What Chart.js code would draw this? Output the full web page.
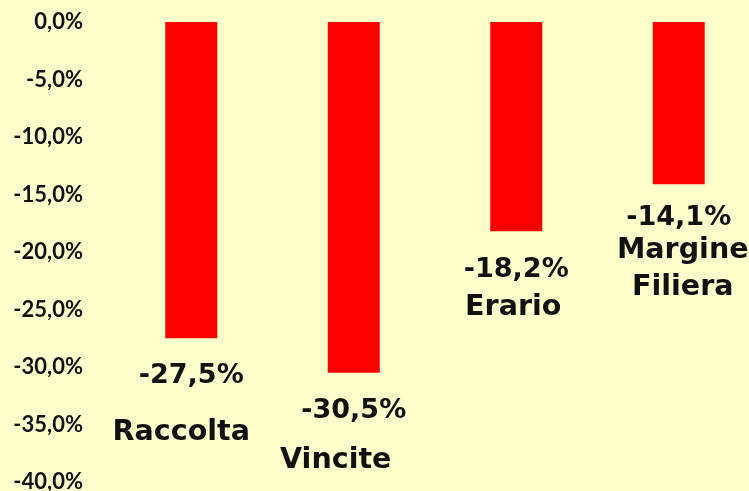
<!DOCTYPE html>
<html>
<head>
<meta charset="utf-8">
<script src="https://cdn.jsdelivr.net/npm/chart.js@4.4.1/dist/chart.umd.min.js"></script>
<style>
  html, body { margin: 0; padding: 0; background: #FFFFCC; overflow: hidden; }
  #wrap { width: 760px; height: 491px; position: relative; }
</style>
</head>
<body>
<div id="wrap"><canvas id="chart"></canvas></div>
<script>
// data
const categories = [['Raccolta'], ['Vincite'], ['Erario'], ['Margine', 'Filiera']];
const values = [-27.5, -30.5, -18.2, -14.1];
const yTicks = [0, -5, -10, -15, -20, -25, -30, -35, -40];

// label placement under each bar (px from bar end, baseline)
const valueDy = [45, 45, 46, 41];
const nameDy = [102, 95, 84, 74];
const nameDx = [-10, -18, -3, 4];

const fmt = v => v.toFixed(1).replace('.', ',') + '%';

// draws text stretched horizontally (the original uses a wide gothic face)
function wideText(ctx, text, x, y, sx) {
  ctx.save();
  ctx.translate(x, y);
  ctx.scale(sx, 1);
  ctx.fillText(text, 0, 0);
  ctx.restore();
}

const barLabels = {
  id: 'barLabels',
  afterDatasetsDraw(chart) {
    const ctx = chart.ctx;
    const meta = chart.getDatasetMeta(0);
    ctx.save();
    ctx.fillStyle = '#111';
    ctx.textAlign = 'center';
    ctx.textBaseline = 'alphabetic';
    meta.data.forEach((bar, i) => {
      ctx.font = 'bold 26px "DejaVu Sans"';
      wideText(ctx, fmt(values[i]), bar.x, bar.y + valueDy[i], 1.04);
      ctx.font = 'bold 28px "DejaVu Sans"';
      categories[i].forEach((line, j) => {
        wideText(ctx, line, bar.x + nameDx[i], bar.y + nameDy[i] + j * 37, 1.02);
      });
    });
    ctx.restore();
  }
};

new Chart(document.getElementById('chart'), {
  type: 'bar',
  data: {
    labels: categories.map(c => c.join(' ')),
    datasets: [{
      data: values,
      backgroundColor: '#FF0000',
      barPercentage: 0.32,
      categoryPercentage: 1
    }]
  },
  options: {
    responsive: true,
    maintainAspectRatio: false,
    animation: false,
    layout: { padding: { top: 22, bottom: 9, left: 0, right: 0 } },
    plugins: { legend: { display: false }, tooltip: { enabled: false } },
    scales: {
      x: { display: false },
      y: {
        min: -40,
        max: 0,
        afterFit(scale) {
          scale.width = 110;
          scale.paddingTop = 0;
          scale.paddingBottom = 0;
        },
        afterBuildTicks(scale) { scale.ticks = yTicks.map(v => ({ value: v })); },
        grid: { display: false, drawTicks: false },
        border: { display: false },
        ticks: {
          padding: 27,
          color: '#111',
          font: { family: 'Lato', weight: 'bold', size: 22 },
          callback: v => fmt(v)
        }
      }
    }
  },
  plugins: [barLabels]
});
</script>
</body>
</html>
